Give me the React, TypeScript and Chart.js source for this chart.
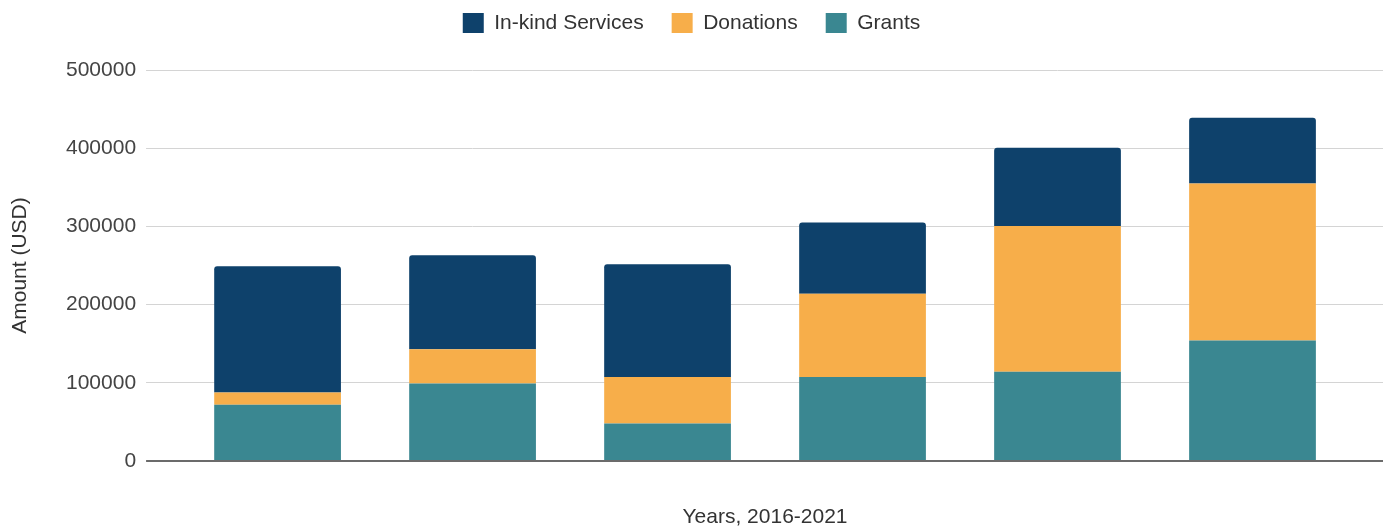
import React, { useEffect, useRef } from "react";
import { Chart, registerables } from "chart.js";

Chart.register(...registerables);

const categories = ["2016", "2017", "2018", "2019", "2020", "2021"];
const grants = [72000, 99000, 48000, 107500, 114000, 154000];
const donations = [15500, 44000, 59500, 106500, 186500, 201000];
const inKind = [161500, 120000, 144000, 91000, 100000, 84000];
const yTicks = [0, 100000, 200000, 300000, 400000, 500000];

const FONT = 'Arial, "Liberation Sans", sans-serif';
const NAVY = "#0e416b";
const ORANGE = "#f7ae4a";
const TEAL = "#3a8791";

export default function App() {
  const ref = useRef<HTMLCanvasElement | null>(null);

  useEffect(() => {
    document.body.style.margin = "0";
    if (!ref.current) return;
    const gridColor = (c: any) => (c.tick && c.tick.value === 0 ? "#6b6b6b" : "#d4d4d4");
    const gridWidth = (c: any) => (c.tick && c.tick.value === 0 ? 2 : 1);
    const chart = new Chart(ref.current, {
      type: "bar",
      data: {
        labels: categories,
        datasets: [
          { label: "Grants", data: grants, backgroundColor: TEAL, borderRadius: 0 },
          { label: "Donations", data: donations, backgroundColor: ORANGE, borderRadius: 0 },
          {
            label: "In-kind Services",
            data: inKind,
            backgroundColor: NAVY,
            borderRadius: { topLeft: 3, topRight: 3, bottomLeft: 0, bottomRight: 0 },
            borderSkipped: false,
          },
        ],
      },
      options: {
        responsive: false,
        animation: false,
        layout: { padding: { top: -15.5, left: 0, right: 4, bottom: 0 } },
        datasets: { bar: { categoryPercentage: 1, barPercentage: 0.65 } },
        plugins: {
          tooltip: { enabled: false },
          legend: {
            position: "top",
            reverse: true,
            labels: {
              boxWidth: 21,
              boxHeight: 20,
              padding: 28,
              color: "#333",
              font: { family: FONT, size: 21 },
            },
          },
        },
        scales: {
          x: {
            stacked: true,
            grid: { display: false, drawTicks: false, tickLength: 0 },
            border: { display: false },
            ticks: { display: false },
            title: {
              display: true,
              text: "Years, 2016-2021",
              color: "#333",
              font: { family: FONT, size: 21 },
              padding: { top: 43.8, bottom: -3 },
            },
          },
          xTop: {
            type: "category",
            position: "top",
            display: true,
            grid: { display: false, drawTicks: false, tickLength: 0 },
            border: { display: false },
            ticks: { display: false },
            afterFit: (s: any) => {
              s.height = 26.5;
            },
          },
          y: {
            stacked: true,
            min: 0,
            max: 500000,
            afterBuildTicks: (s: any) => {
              s.ticks = yTicks.map((v) => ({ value: v }));
            },
            grid: { color: gridColor, lineWidth: gridWidth, tickLength: 34, drawTicks: true },
            border: { display: false },
            ticks: {
              padding: 10,
              color: "#444",
              font: { family: FONT, size: 21 },
              callback: (v: any) => String(v),
            },
            title: {
              display: true,
              text: "Amount (USD)",
              color: "#333",
              font: { family: FONT, size: 21 },
              padding: { top: 7.4, bottom: 23.4 },
            },
          },
          yRight: {
            type: "linear",
            position: "right",
            min: 0,
            max: 500000,
            afterBuildTicks: (s: any) => {
              s.ticks = yTicks.map((v) => ({ value: v }));
            },
            grid: {
              color: gridColor,
              lineWidth: gridWidth,
              tickLength: 33,
              drawTicks: true,
              drawOnChartArea: false,
            },
            border: { display: false },
            ticks: { display: false },
          },
        },
      },
    });
    return () => chart.destroy();
  }, []);

  return <canvas ref={ref} width={1387} height={527} style={{ display: "block" }} />;
}
